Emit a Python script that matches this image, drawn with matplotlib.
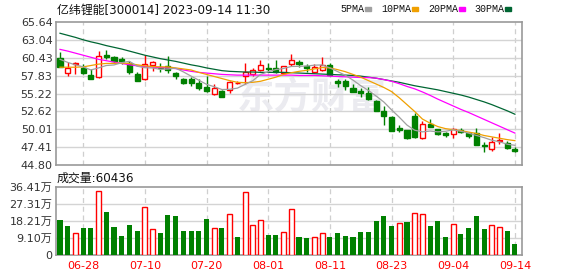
import matplotlib.pyplot as plt
from matplotlib.patches import Rectangle

plt.rcParams['font.family'] = ['DejaVu Sans', 'Noto Sans CJK SC']

# daily K-line, 60 trading days (06-21 .. 09-14)
opens = [60.35, 58.17, 59.45, 59.0, 57.92, 57.67, 60.85, 60.6, 60.2, 59.7,
         58.1, 57.3, 59.35, 59.1, 59.2, 58.15, 57.35, 57.35, 56.75, 56.2,
         55.15, 55.6, 55.75, 56.7, 57.7, 58.1, 58.65, 59.0, 58.9, 58.25,
         59.45, 59.85, 59.2, 58.4, 58.65, 59.4, 57.0, 57.05, 56.0, 55.6,
         55.25, 54.15, 52.7, 51.85, 50.25, 49.9, 52.0, 48.7, 50.8, 50.05,
         49.5, 49.35, 49.9, 49.45, 49.4, 47.75, 47.15, 48.3, 48.0, 47.2]
highs = [61.2, 59.86, 59.75, 59.5, 58.8, 61.4, 61.6, 60.75, 60.5, 59.95,
         58.3, 60.9, 59.9, 59.6, 60.7, 58.4, 57.5, 57.65, 57.3, 57.8,
         56.55, 55.8, 57.05, 57.0, 59.6, 58.95, 60.1, 59.6, 60.1, 59.3,
         61.0, 60.1, 59.5, 59.5, 60.5, 59.6, 57.4, 57.3, 56.55, 56.0,
         56.1, 54.3, 53.4, 51.9, 50.65, 49.95, 52.35, 51.25, 51.55, 50.1,
         49.55, 50.25, 50.2, 49.55, 50.25, 48.2, 48.85, 49.4, 48.3, 47.45]
lows = [59.05, 57.82, 58.1, 58.1, 57.35, 57.55, 60.2, 59.6, 59.5, 58.1,
        57.0, 57.25, 58.5, 58.4, 58.2, 57.4, 56.6, 56.3, 55.8, 55.5,
        55.0, 54.7, 55.35, 56.6, 56.6, 57.7, 58.5, 58.4, 58.2, 58.15,
        59.3, 59.1, 58.4, 58.25, 58.55, 57.7, 56.1, 55.8, 55.4, 54.75,
        54.3, 52.6, 50.65, 49.75, 49.65, 48.55, 48.7, 48.55, 50.3, 49.2,
        48.95, 48.7, 49.5, 48.7, 47.65, 46.75, 46.9, 47.85, 47.2, 46.65]
closes = [59.13, 58.89, 59.6, 58.25, 57.38, 60.65, 60.6, 60.0, 59.9, 58.4,
          57.1, 59.5, 59.8, 58.9, 58.65, 57.7, 56.8, 56.7, 55.95, 55.65,
          55.95, 54.75, 56.85, 56.8, 58.4, 58.6, 59.35, 58.8, 58.4, 59.2,
          60.05, 59.45, 59.0, 59.05, 59.35, 57.9, 56.8, 56.3, 55.5, 55.3,
          54.45, 52.7, 51.95, 49.8, 49.95, 48.7, 48.95, 50.75, 50.4, 49.35,
          49.1, 50.05, 49.65, 49.05, 47.7, 47.5, 48.15, 48.5, 47.3, 46.9]

ma5 = [60.2, 59.75, 59.4, 59.1, 58.65, 58.95, 59.3, 59.38, 59.71, 59.91,
       59.2, 58.98, 58.94, 58.74, 58.79, 58.91, 58.37, 57.75, 57.16, 56.56,
       56.21, 55.8, 55.83, 56.0, 56.55, 57.08, 58.0, 58.39, 58.71, 58.87,
       59.16, 59.18, 59.22, 59.35, 59.38, 58.95, 58.42, 57.88, 57.17, 56.36,
       55.67, 54.85, 53.98, 52.84, 51.77, 50.62, 49.87, 49.63, 49.75, 49.63,
       49.71, 49.93, 49.71, 49.44, 49.11, 48.79, 48.41, 48.18, 47.83, 47.67]
ma10 = [59.05, 59.05, 59.05, 59.1, 59.3, 59.5, 59.6, 59.6, 59.65, 59.6,
        59.4, 59.25, 59.15, 59.1, 59.1, 58.95, 58.8, 58.65, 58.3, 58.0,
        57.7, 57.4, 57.1, 56.85, 56.8, 56.85, 57.0, 57.3, 57.6, 58.0,
        58.25, 58.45, 58.6, 58.8, 59.0, 58.95, 58.7, 58.4, 58.0, 57.6,
        57.1, 56.6, 56.1, 55.5, 54.6, 53.6, 52.6, 51.5, 50.9, 50.4,
        50.1, 49.95, 49.8, 49.6, 49.4, 49.1, 48.9, 48.7, 48.5, 48.35]
ma20 = [61.65, 61.4, 61.1, 60.8, 60.5, 60.2, 60.0, 59.8, 59.6, 59.4,
        59.25, 59.15, 59.05, 59.0, 58.95, 58.85, 58.65, 58.45, 58.3, 58.2,
        58.1, 58.0, 57.95, 57.9, 57.9, 57.9, 57.9, 57.9, 57.9, 57.9,
        57.9, 57.85, 57.85, 57.85, 57.8, 57.75, 57.7, 57.65, 57.6, 57.55,
        57.55, 57.45, 57.25, 57.0, 56.65, 56.25, 55.9, 55.45, 54.95, 54.4,
        53.9, 53.4, 52.9, 52.45, 51.95, 51.45, 50.95, 50.45, 49.95, 49.45]
ma30 = [64.0, 63.7, 63.4, 63.05, 62.75, 62.5, 62.2, 61.95, 61.7, 61.4,
        61.1, 60.8, 60.55, 60.3, 60.1, 59.9, 59.65, 59.4, 59.2, 58.95,
        58.75, 58.55, 58.45, 58.4, 58.35, 58.35, 58.3, 58.3, 58.3, 58.3,
        58.25, 58.2, 58.15, 58.1, 58.05, 58.0, 57.95, 57.9, 57.85, 57.75,
        57.6, 57.45, 57.25, 57.05, 56.85, 56.6, 56.35, 56.15, 55.95, 55.75,
        55.5, 55.25, 55.0, 54.7, 54.35, 54.0, 53.6, 53.15, 52.7, 52.2]

# volume in 万, and whether the day closed up (red) or down (green)
volumes = [18.7, 15.5, 11.6, 14.5, 14.5, 34.3, 23.0, 15.0, 10.2, 16.1,
           12.9, 25.5, 13.7, 11.8, 21.4, 20.9, 12.9, 12.9, 12.9, 19.3,
           14.3, 14.5, 21.8, 9.6, 33.6, 15.9, 18.6, 10.7, 10.7, 12.1,
           24.6, 9.6, 9.1, 9.5, 11.6, 9.6, 11.6, 10.2, 9.6, 12.3,
           12.3, 18.2, 20.9, 15.5, 17.0, 17.7, 22.3, 21.8, 15.5, 18.2,
           9.6, 16.4, 11.2, 14.5, 20.9, 13.9, 15.9, 15.0, 12.9, 6.04]
vol_up = [0, 0, 1, 0, 0, 1, 0, 0, 0, 0, 0, 1, 1, 0, 0, 0, 0, 0, 0, 0,
          1, 0, 1, 0, 1, 1, 1, 0, 0, 1, 1, 0, 0, 1, 1, 0, 0, 0, 0, 0,
          0, 0, 0, 0, 1, 0, 1, 1, 0, 0, 0, 1, 0, 0, 0, 0, 1, 1, 0, 0]

date_ticks = [3, 11, 19, 27, 35, 43, 51, 59]
date_labels = ["06-28", "07-10", "07-20", "08-01", "08-11", "08-23", "09-04", "09-14"]
price_ticks = [44.80, 47.41, 50.01, 52.62, 55.22, 57.83, 60.43, 63.04, 65.64]
vol_ticks = [0, 9.10, 18.21, 27.31, 36.41]
vol_labels = ["0", "9.10万", "18.21万", "27.31万", "36.41万"]
ma_names = ["5PMA", "10PMA", "20PMA", "30PMA"]
ma_colors = ['#a0a0a0', '#f0a000', '#ff00ff', '#006633']

RED = '#ff0000'
GREEN = '#008000'
GRID = '#d4d4d4'
FRAME = '#999999'
TXT = '#333333'

W, H = 578, 276
fig = plt.figure(figsize=(W / 100, H / 100), dpi=100)
ax = fig.add_axes([56 / W, 1 - 165 / H, 466 / W, 143 / H])
axv = fig.add_axes([56 / W, 1 - 255 / H, 466 / W, 68 / H])

n = len(closes)
xs = list(range(n))

for a in (ax, axv):
    a.set_xlim(-0.52, 59.92)
    for s in a.spines.values():
        s.set_color(FRAME)
        s.set_linewidth(1.2)
    a.tick_params(length=0, labelsize=8, colors=TXT, pad=2.5)
    a.set_xticks(date_ticks)
    for t in date_ticks:
        a.axvline(t, color='#cfcfcf', lw=0.9, ls=(0, (4, 3)), zorder=0)
    a.set_facecolor('white')

# watermark
ax.text(0.55, 0.47, "东方财富", transform=ax.transAxes, fontsize=27,
        fontweight='bold', color='#ebebf0', ha='center', va='center',
        family=['Noto Sans CJK SC'], zorder=0)

# price panel
ax.set_ylim(44.80, 65.64)
ax.set_yticks(price_ticks)
ax.set_yticklabels([f"{v:.2f}" for v in price_ticks])
for v in price_ticks[1:-1]:
    ax.axhline(v, color=GRID, lw=1, zorder=0)
ax.set_xticklabels([])

for i in xs:
    o, h, l, c = opens[i], highs[i], lows[i], closes[i]
    up = c >= o
    col = RED if up else GREEN
    ax.vlines(i, l, h, color=col, lw=1, zorder=2)
    bot = min(o, c)
    ht = max(abs(c - o), 0.08)
    ax.bar(i, ht, bottom=bot, width=0.66, zorder=3,
           facecolor='white' if up else GREEN, edgecolor=col, linewidth=1)

for vals, col in zip([ma30, ma20, ma10, ma5], ma_colors[::-1]):
    ax.plot(xs, vals, color=col, lw=0.9, zorder=4)

# volume panel
axv.set_ylim(0, 36.41)
axv.set_yticks(vol_ticks)
axv.set_yticklabels(vol_labels)
for v in vol_ticks[1:-1]:
    axv.axhline(v, color=GRID, lw=1, zorder=0)
axv.set_xticklabels(date_labels, color=RED)
axv.tick_params(axis='x', pad=4)
for i in xs:
    if vol_up[i]:
        axv.bar(i, volumes[i], width=0.66, facecolor='white', edgecolor=RED,
                linewidth=1, zorder=3)
    else:
        axv.bar(i, volumes[i], width=0.66, color=GREEN, zorder=3)

# header texts
fig.text(57 / W, 1 - 10 / H, "亿纬锂能[300014] 2023-09-14 11:30", fontsize=8.6,
         color='#111111', va='center', ha='left')
fig.text(57 / W, 1 - 178 / H, "成交量:60436", fontsize=8.6, color='#111111',
         va='center', ha='left')

# legend: label followed by a small colour square
square_x = [365, 412, 459, 505]
for label, col, sx in zip(ma_names, ma_colors, square_x):
    fig.text((sx - 1) / W, 1 - 9 / H, label, fontsize=7.2, color='#111111',
             va='center', ha='right', family=['Liberation Mono'])
    fig.patches.append(Rectangle((sx / W, 1 - 11 / H), 6 / W, 4 / H,
                                 transform=fig.transFigure, color=col))

fig.savefig("out.png", dpi=100)
